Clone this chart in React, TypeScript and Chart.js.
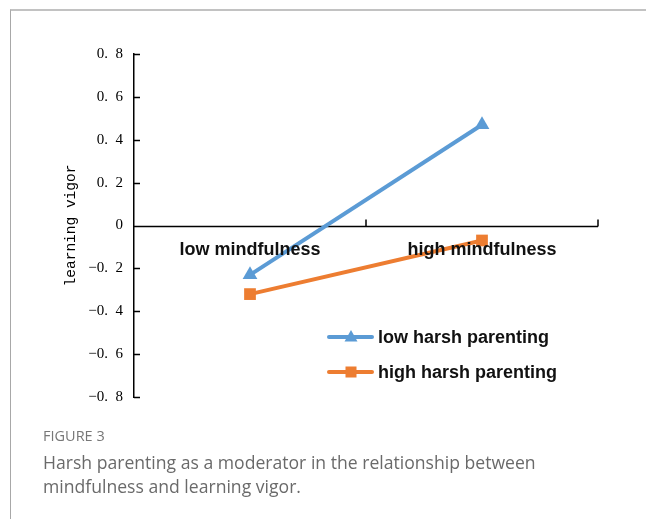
import React, { useEffect, useRef } from 'react';
import { Chart, registerables } from 'chart.js';

Chart.register(...registerables);

const categories = ['low mindfulness', 'high mindfulness'];
const seriesNames = ['low harsh parenting', 'high harsh parenting'];
const lowHarshValues = [-0.23, 0.47];
const highHarshValues = [-0.32, -0.07];
const yMin = -0.8;
const yMax = 0.8;
const yStep = 0.2;
const yTitle = 'learning vigor';
const figureLabel = 'FIGURE 3';
const captionLines = [
  'Harsh parenting as a moderator in the relationship between',
  'mindfulness and learning vigor.',
];

const BLUE = '#5b9bd5';
const ORANGE = '#ed7d31';

function formatTick(v: number): string {
  const r = Math.round(v * 10) / 10;
  if (r === 0) return '0';
  const parts = Math.abs(r).toFixed(1).split('.');
  return (r < 0 ? '\u2212' : '') + parts[0] + '.\u2002' + parts[1];
}

const customAxes = {
  id: 'customAxes',
  beforeDatasetsDraw(chart: any) {
    const { ctx, chartArea, scales } = chart;
    const x = scales.x;
    const y = scales.y;
    const y0 = y.getPixelForValue(0);
    ctx.save();
    ctx.strokeStyle = '#000';
    ctx.lineWidth = 1.5;
    ctx.beginPath();
    y.ticks.forEach((t: any) => {
      const py = Math.round(y.getPixelForValue(t.value)) + 0.5;
      ctx.moveTo(chartArea.left, py);
      ctx.lineTo(chartArea.left + 6, py);
    });
    const yy = Math.round(y0) + 0.5;
    ctx.moveTo(chartArea.left, yy);
    ctx.lineTo(chartArea.right, yy);
    const n = chart.data.labels.length;
    for (let i = 1; i <= n; i++) {
      const bx = Math.round(x.getPixelForValue(i - 0.5));
      ctx.moveTo(bx, yy);
      ctx.lineTo(bx, yy - 7);
    }
    ctx.stroke();
    ctx.restore();
  },
  afterDatasetsDraw(chart: any) {
    const { ctx, chartArea, scales } = chart;
    const x = scales.x;
    const y = scales.y;
    const y0 = y.getPixelForValue(0);
    ctx.save();
    ctx.fillStyle = '#111';
    ctx.font = 'bold 18px "Liberation Sans", Arial, sans-serif';
    ctx.textAlign = 'center';
    ctx.textBaseline = 'middle';
    (chart.data.labels as string[]).forEach((lab, i) => {
      ctx.fillText(lab, x.getPixelForValue(i), y0 + 25);
    });
    ctx.save();
    ctx.translate(71, (chartArea.top + chartArea.bottom) / 2);
    ctx.rotate(-Math.PI / 2);
    ctx.font = '14.5px "Liberation Mono", monospace';
    ctx.fillStyle = '#000';
    ctx.textAlign = 'center';
    ctx.textBaseline = 'middle';
    ctx.fillText(yTitle, 0, 0);
    ctx.restore();
    const rows = [337, 372];
    chart.data.datasets.forEach((ds: any, i: number) => {
      const ly = rows[i];
      ctx.strokeStyle = ds.borderColor;
      ctx.lineWidth = 4;
      ctx.lineCap = 'round';
      ctx.beginPath();
      ctx.moveTo(329, ly);
      ctx.lineTo(372, ly);
      ctx.stroke();
      ctx.fillStyle = ds.borderColor;
      const cx = 351;
      if (ds.pointStyle === 'triangle') {
        ctx.beginPath();
        ctx.moveTo(cx, ly - 7);
        ctx.lineTo(cx + 6.5, ly + 4.5);
        ctx.lineTo(cx - 6.5, ly + 4.5);
        ctx.closePath();
        ctx.fill();
      } else {
        ctx.fillRect(cx - 5.5, ly - 5.5, 11, 11);
      }
      ctx.fillStyle = '#111';
      ctx.font = 'bold 18px "Liberation Sans", Arial, sans-serif';
      ctx.textAlign = 'left';
      ctx.textBaseline = 'middle';
      ctx.fillText(ds.label, 378, ly + 1);
    });
    ctx.restore();
  },
};

export default function App() {
  const canvasRef = useRef<HTMLCanvasElement | null>(null);

  useEffect(() => {
    document.body.style.margin = '0';
    const canvas = canvasRef.current;
    if (!canvas) return;
    const chart = new Chart(canvas, {
      type: 'line',
      data: {
        labels: categories,
        datasets: [
          {
            label: seriesNames[0],
            data: lowHarshValues,
            borderColor: BLUE,
            backgroundColor: BLUE,
            borderWidth: 4,
            pointStyle: 'triangle',
            pointRadius: 8.5,
            pointBorderWidth: 0,
            clip: false as any,
          },
          {
            label: seriesNames[1],
            data: highHarshValues,
            borderColor: ORANGE,
            backgroundColor: ORANGE,
            borderWidth: 4,
            pointStyle: 'rect',
            pointRadius: 8.3,
            pointBorderWidth: 0,
            clip: false as any,
          },
        ],
      },
      options: {
        responsive: false,
        animation: false,
        devicePixelRatio: 1,
        layout: { padding: { left: 0, right: 48, top: 54, bottom: 23 } },
        plugins: {
          legend: { display: false },
          tooltip: { enabled: false },
        },
        scales: {
          x: { type: 'category', display: false, offset: true },
          y: {
            min: yMin,
            max: yMax,
            afterFit: (s: any) => {
              s.width = 134;
            },
            grid: { display: false, drawTicks: false },
            border: { display: true, color: '#000', width: 1.5 },
            ticks: {
              stepSize: yStep,
              padding: 11,
              color: '#000',
              font: { family: '"Liberation Serif", serif', size: 15 },
              callback: (v: any) => formatTick(Number(v)),
            },
          },
        },
      },
      plugins: [customAxes],
    });
    return () => chart.destroy();
  }, []);

  return (
    <div>
      <div
        style={{
          position: 'fixed',
          left: 10,
          top: 9,
          right: 0,
          bottom: 0,
          borderTop: '2px solid #c2c2c2',
          borderLeft: '1.5px solid #a8a8a8',
        }}
      />
      <canvas
        ref={canvasRef}
        width={646}
        height={420}
        style={{ position: 'fixed', left: 0, top: 0, display: 'block' }}
      />
      <div
        style={{
          position: 'fixed',
          left: 43,
          top: 427,
          fontFamily: '"Open Sans", sans-serif',
          fontSize: 14.5,
          lineHeight: '18px',
          color: '#777',
        }}
      >
        {figureLabel}
      </div>
      <div
        style={{
          position: 'fixed',
          left: 43,
          top: 450,
          fontFamily: '"Open Sans", sans-serif',
          fontSize: 17.6,
          lineHeight: '24px',
          color: '#6a6a6a',
          whiteSpace: 'nowrap',
        }}
      >
        {captionLines.map((l, i) => (
          <div key={i}>{l}</div>
        ))}
      </div>
    </div>
  );
}
